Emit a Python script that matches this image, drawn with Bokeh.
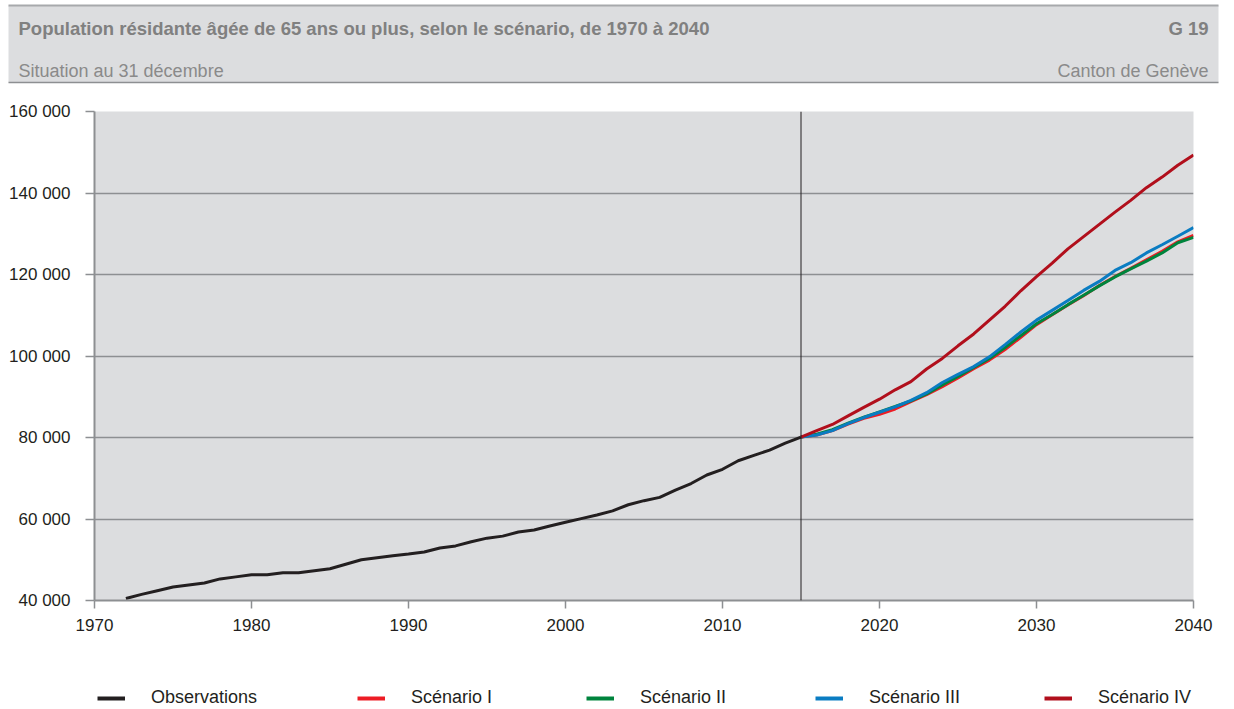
from bokeh.plotting import figure
from bokeh.layouts import column
from bokeh.models import Range1d, FixedTicker, Span, Legend, LegendItem
from bokeh.core.properties import value
from bokeh.embed import file_html
from bokeh.resources import INLINE

# ---------------- data ----------------
title_text = "Population résidante âgée de 65 ans ou plus, selon le scénario, de 1970 à 2040"
subtitle_text = "Situation au 31 décembre"
code_text = "G 19"
source_text = "Canton de Genève"

obs_years = list(range(1972, 2016))
obs_values = [40500, 41500, 42400, 43300, 43800, 44300, 45300, 45800, 46300, 46300,
              46800, 46800, 47300, 47800, 48900, 50000, 50500, 51000, 51400, 51900,
              52900, 53400, 54400, 55300, 55800, 56800, 57300, 58300, 59200, 60100,
              61000, 62000, 63500, 64500, 65300, 67100, 68700, 70800, 72200, 74300,
              75600, 76900, 78600, 80100]

scen_years = list(range(2015, 2041))
scen_I = [80100, 80600, 81700, 83300, 84700, 85700, 87000, 88800, 90500, 92500,
          94600, 96900, 99000, 101600, 104600, 107700, 110100, 112500, 114800, 117300,
          119500, 121500, 123600, 125700, 128000, 129600]
scen_II = [80100, 80800, 81900, 83500, 85000, 86300, 87600, 89000, 90700, 92900,
           95000, 97200, 99400, 102100, 105000, 107900, 110200, 112600, 114900, 117200,
           119400, 121400, 123300, 125300, 127800, 129100]
scen_III = [80100, 80600, 81700, 83400, 84900, 86200, 87500, 89100, 91000, 93500,
            95500, 97400, 99800, 102800, 105900, 108800, 111200, 113600, 116100, 118300,
            121000, 122900, 125300, 127300, 129400, 131500]
scen_IV = [80100, 81700, 83200, 85300, 87400, 89400, 91700, 93700, 96800, 99400,
           102500, 105400, 108800, 112200, 116000, 119500, 122800, 126300, 129300, 132300,
           135300, 138200, 141300, 143900, 146800, 149300]

series_names = ["Observations", "Scénario I", "Scénario II", "Scénario III", "Scénario IV"]
series_colors = ["#231f20", "#ed1c24", "#00843d", "#0a7cc2", "#b10f1c"]

x_ticks = [1970, 1980, 1990, 2000, 2010, 2020, 2030, 2040]
y_ticks = [40000, 60000, 80000, 100000, 120000, 140000, 160000]
y_tick_labels = ["40 000", "60 000", "80 000", "100 000", "120 000", "140 000", "160 000"]
split_year = 2015

FONT = "Liberation Sans"
TXT = "#231f20"
W = 1226

# ---------------- header ----------------
HH = 84
h = figure(width=W, height=HH, x_range=Range1d(0, W), y_range=Range1d(0, HH),
           toolbar_location=None, output_backend="svg", min_border=0, frame_align=False,
           x_axis_location=None, y_axis_location=None, outline_line_color=None)
h.grid.visible = False
h.quad(left=[8], right=[1218], bottom=[2], top=[79], fill_color="#dcdddf", line_color=None)
h.segment(x0=[8], x1=[1218], y0=[79], y1=[79], line_color="#a7a9ac", line_width=2)
h.segment(x0=[8], x1=[1218], y0=[2], y1=[2], line_color="#8d8f92", line_width=1.5)
h.text(x=[18], y=[56], text=[title_text], text_font=value(FONT), text_font_style="bold",
       text_font_size="18.5px", text_color="#808080", text_baseline="middle", text_align="left")
h.text(x=[1208], y=[56], text=[code_text], text_font=value(FONT), text_font_style="bold",
       text_font_size="18.5px", text_color="#808080", text_baseline="middle", text_align="right")
h.text(x=[18], y=[14], text=[subtitle_text], text_font=value(FONT),
       text_font_size="18px", text_color="#8a8a8a", text_baseline="middle", text_align="left")
h.text(x=[1208], y=[14], text=[source_text], text_font=value(FONT),
       text_font_size="18px", text_color="#8a8a8a", text_baseline="middle", text_align="right")

# ---------------- main chart ----------------
p = figure(width=W, height=566, x_range=Range1d(1970, 2040), y_range=Range1d(40000, 160000),
           toolbar_location=None, output_backend="svg", frame_align=False,
           min_border_left=94, min_border_right=33, min_border_top=27, min_border_bottom=50)
p.background_fill_color = "#dcdddf"
p.border_fill_color = "white"
p.outline_line_color = None

p.xaxis.ticker = FixedTicker(ticks=x_ticks)
p.yaxis.ticker = FixedTicker(ticks=y_ticks)
p.yaxis.major_label_overrides = {t: l for t, l in zip(y_ticks, y_tick_labels)}
for ax in (p.xaxis, p.yaxis):
    ax.axis_line_color = "#8d8f92"
    ax.axis_line_width = 2
    ax.major_tick_line_color = "#8d8f92"
    ax.major_tick_line_width = 1.5
    ax.major_tick_in = 0
    ax.minor_tick_line_color = None
    ax.major_label_text_font = FONT
    ax.major_label_text_font_size = "17px"
    ax.major_label_text_color = TXT
p.xaxis.major_tick_out = 8
p.xaxis.major_label_standoff = 10
p.yaxis.major_tick_out = 9
p.yaxis.major_label_standoff = 15

p.xgrid.visible = False
p.ygrid.ticker = FixedTicker(ticks=y_ticks[1:-1])
p.ygrid.grid_line_color = "#8d8f92"
p.ygrid.grid_line_width = 1.5

p.add_layout(Span(location=split_year, dimension="height", line_color=TXT, line_width=1))

p.line(obs_years, obs_values, line_color=series_colors[0], line_width=3)
p.line(scen_years, scen_I, line_color=series_colors[1], line_width=3)
p.line(scen_years, scen_II, line_color=series_colors[2], line_width=3)
p.line(scen_years, scen_III, line_color=series_colors[3], line_width=3)
p.line(scen_years, scen_IV, line_color=series_colors[4], line_width=3)

# ---------------- legend strip ----------------
# same series drawn in a strip whose ranges show none of the data: only the legend is visible
LH = 59
lf = figure(width=W, height=LH, x_range=Range1d(0, 1), y_range=Range1d(0, 1),
            toolbar_location=None, output_backend="svg", min_border=0, frame_align=False,
            x_axis_location=None, y_axis_location=None, outline_line_color=None)
lf.grid.visible = False
series_x = [obs_years, scen_years, scen_years, scen_years, scen_years]
series_y = [obs_values, scen_I, scen_II, scen_III, scen_IV]
leg_renderers = [lf.line(x=xs, y=ys, line_color=c, line_width=4)
                 for xs, ys, c in zip(series_x, series_y, series_colors)]
items = [LegendItem(label=n, renderers=[r]) for n, r in zip(series_names, leg_renderers)]

common = dict(orientation="horizontal", glyph_width=28, glyph_height=20, label_standoff=26,
              label_width=100, padding=0, margin=0,
              label_text_font=FONT, label_text_font_size="18px", label_text_color=TXT,
              border_line_color=None, background_fill_alpha=0)
legend_obs = Legend(items=items[:1], location=(97, 1), spacing=80, **common)
legend_scen = Legend(items=items[1:], location=(357, 1), spacing=75, **common)
lf.add_layout(legend_obs, "center")
lf.add_layout(legend_scen, "center")

layout = column(h, p, lf, spacing=0)
open("out.html", "w").write(file_html(layout, INLINE))
